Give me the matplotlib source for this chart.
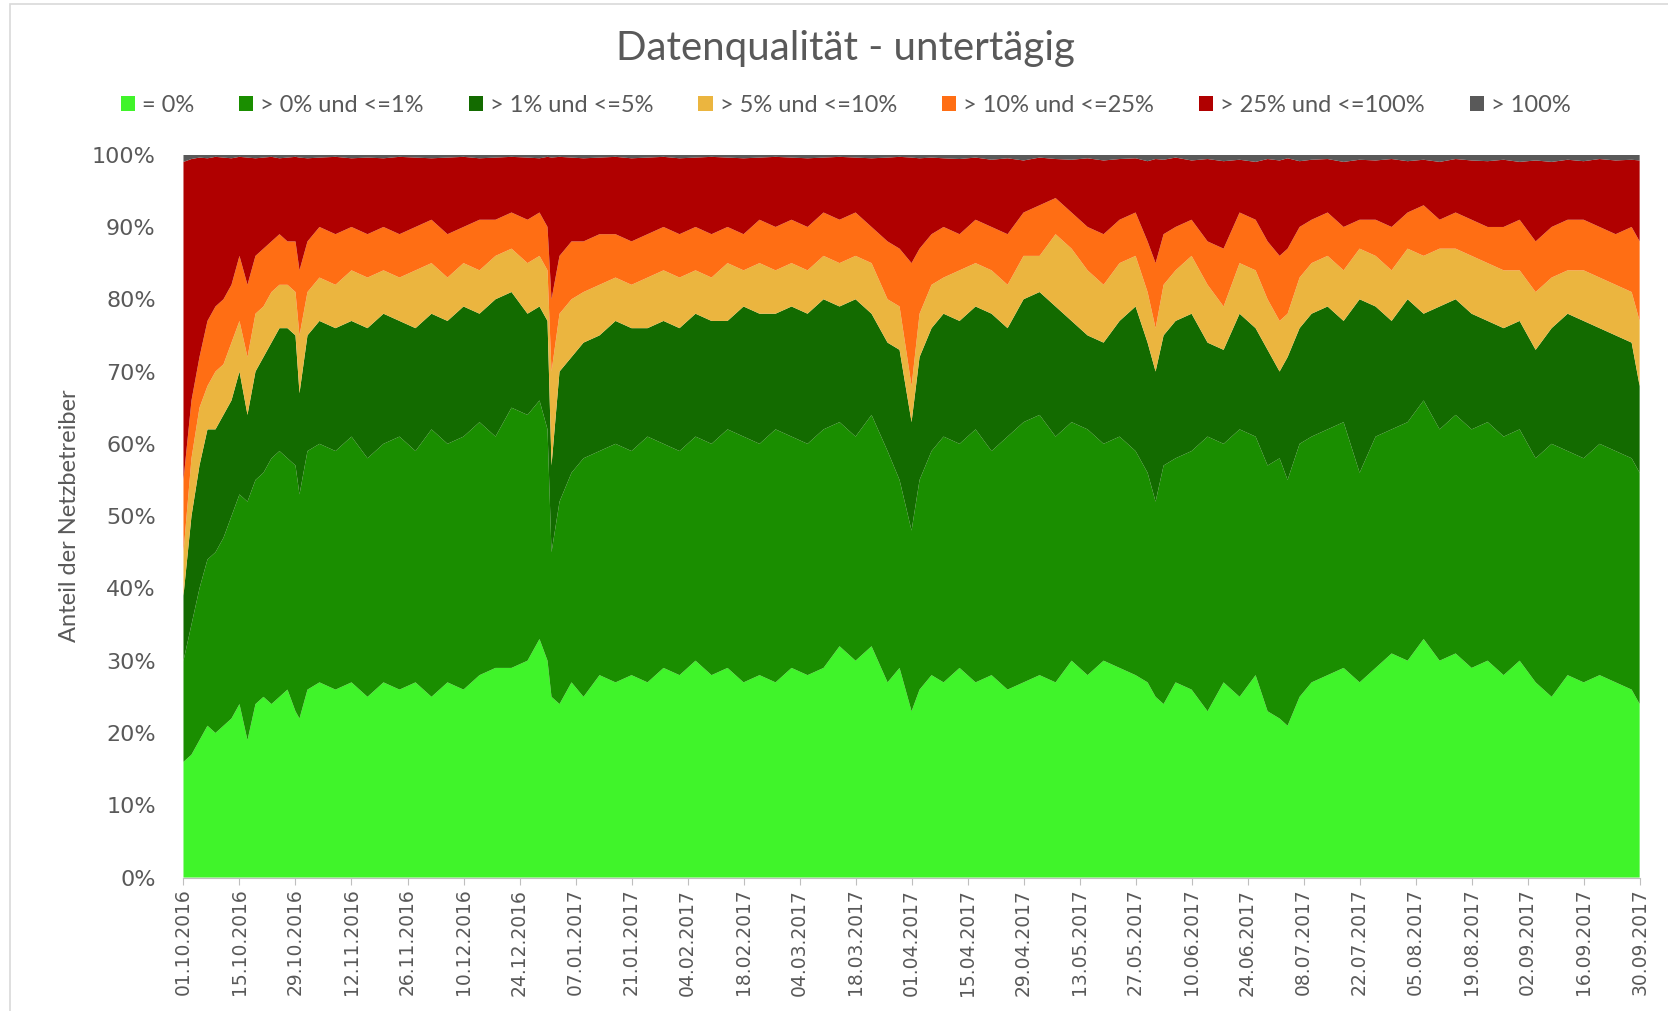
"""
Datenqualität - untertägig: stacked shares per quality class
"""
import datetime as dt

import matplotlib.dates as mdates
import matplotlib.pyplot as plt
import numpy as np
from matplotlib.patches import Rectangle
from matplotlib.ticker import PercentFormatter

START = dt.date(2016, 10, 1)

# day offsets from 01.10.2016 at which the values were read
day_offsets = [
    0, 2, 4, 6, 8, 10, 12, 14, 16, 18,
    20, 22, 24, 26, 28, 29, 31, 34, 38, 42,
    46, 50, 54, 58, 62, 66, 70, 74, 78, 82,
    86, 89, 91, 92, 94, 97, 100, 104, 108, 112,
    116, 120, 124, 128, 132, 136, 140, 144, 148, 152,
    156, 160, 164, 168, 172, 176, 179, 182, 184, 187,
    190, 194, 198, 202, 206, 210, 214, 218, 222, 226,
    230, 234, 238, 241, 243, 245, 248, 252, 256, 260,
    264, 268, 271, 274, 276, 279, 282, 286, 290, 294,
    298, 302, 306, 310, 314, 318, 322, 326, 330, 334,
    338, 342, 346, 350, 354, 358, 362, 364,
]

# cumulative upper edge (in %) of each class
top_eq0 = [
    16, 17, 19, 21, 20, 21, 22, 24, 19, 24,
    25, 24, 25, 26, 23, 22, 26, 27, 26, 27,
    25, 27, 26, 27, 25, 27, 26, 28, 29, 29,
    30, 33, 30, 25, 24, 27, 25, 28, 27, 28,
    27, 29, 28, 30, 28, 29, 27, 28, 27, 29,
    28, 29, 32, 30, 32, 27, 29, 23, 26, 28,
    27, 29, 27, 28, 26, 27, 28, 27, 30, 28,
    30, 29, 28, 27, 25, 24, 27, 26, 23, 27,
    25, 28, 23, 22, 21, 25, 27, 28, 29, 27,
    29, 31, 30, 33, 30, 31, 29, 30, 28, 30,
    27, 25, 28, 27, 28, 27, 26, 24,
]
top_le1 = [
    30, 35, 40, 44, 45, 47, 50, 53, 52, 55,
    56, 58, 59, 58, 57, 53, 59, 60, 59, 61,
    58, 60, 61, 59, 62, 60, 61, 63, 61, 65,
    64, 66, 62, 45, 52, 56, 58, 59, 60, 59,
    61, 60, 59, 61, 60, 62, 61, 60, 62, 61,
    60, 62, 63, 61, 64, 59, 55, 48, 55, 59,
    61, 60, 62, 59, 61, 63, 64, 61, 63, 62,
    60, 61, 59, 56, 52, 57, 58, 59, 61, 60,
    62, 61, 57, 58, 55, 60, 61, 62, 63, 56,
    61, 62, 63, 66, 62, 64, 62, 63, 61, 62,
    58, 60, 59, 58, 60, 59, 58, 56,
]
top_le5 = [
    39, 50, 57, 62, 62, 64, 66, 70, 64, 70,
    72, 74, 76, 76, 75, 67, 75, 77, 76, 77,
    76, 78, 77, 76, 78, 77, 79, 78, 80, 81,
    78, 79, 77, 57, 70, 72, 74, 75, 77, 76,
    76, 77, 76, 78, 77, 77, 79, 78, 78, 79,
    78, 80, 79, 80, 78, 74, 73, 63, 72, 76,
    78, 77, 79, 78, 76, 80, 81, 79, 77, 75,
    74, 77, 79, 74, 70, 75, 77, 78, 74, 73,
    78, 76, 73, 70, 72, 76, 78, 79, 77, 80,
    79, 77, 80, 78, 79, 80, 78, 77, 76, 77,
    73, 76, 78, 77, 76, 75, 74, 68,
]
top_le10 = [
    45, 58, 65, 68, 70, 71, 74, 77, 72, 78,
    79, 81, 82, 82, 81, 75, 81, 83, 82, 84,
    83, 84, 83, 84, 85, 83, 85, 84, 86, 87,
    85, 86, 84, 70, 78, 80, 81, 82, 83, 82,
    83, 84, 83, 84, 83, 85, 84, 85, 84, 85,
    84, 86, 85, 86, 85, 80, 79, 68, 78, 82,
    83, 84, 85, 84, 82, 86, 86, 89, 87, 84,
    82, 85, 86, 81, 76, 82, 84, 86, 82, 79,
    85, 84, 80, 77, 78, 83, 85, 86, 84, 87,
    86, 84, 87, 86, 87, 87, 86, 85, 84, 84,
    81, 83, 84, 84, 83, 82, 81, 77,
]
top_le25 = [
    55, 66, 72, 77, 79, 80, 82, 86, 82, 86,
    87, 88, 89, 88, 88, 84, 88, 90, 89, 90,
    89, 90, 89, 90, 91, 89, 90, 91, 91, 92,
    91, 92, 90, 80, 86, 88, 88, 89, 89, 88,
    89, 90, 89, 90, 89, 90, 89, 91, 90, 91,
    90, 92, 91, 92, 90, 88, 87, 85, 87, 89,
    90, 89, 91, 90, 89, 92, 93, 94, 92, 90,
    89, 91, 92, 88, 85, 89, 90, 91, 88, 87,
    92, 91, 88, 86, 87, 90, 91, 92, 90, 91,
    91, 90, 92, 93, 91, 92, 91, 90, 90, 91,
    88, 90, 91, 91, 90, 89, 90, 88,
]
top_le100 = [
    99.0, 99.4, 99.6, 99.5, 99.7, 99.6, 99.5, 99.7, 99.6, 99.5,
    99.6, 99.7, 99.5, 99.6, 99.7, 99.6, 99.5, 99.6, 99.7, 99.5,
    99.6, 99.5, 99.7, 99.6, 99.5, 99.6, 99.7, 99.5, 99.6, 99.7,
    99.6, 99.5, 99.7, 99.6, 99.7, 99.6, 99.5, 99.6, 99.7, 99.5,
    99.6, 99.7, 99.5, 99.6, 99.7, 99.6, 99.5, 99.6, 99.7, 99.6,
    99.5, 99.6, 99.7, 99.6, 99.5, 99.6, 99.7, 99.6, 99.5, 99.6,
    99.5, 99.4, 99.6, 99.3, 99.5, 99.2, 99.6, 99.4, 99.3, 99.5,
    99.2, 99.4, 99.5, 99.1, 99.4, 99.3, 99.6, 99.2, 99.4, 99.1,
    99.3, 99.0, 99.4, 99.2, 99.5, 99.1, 99.3, 99.4, 99.0, 99.3,
    99.2, 99.4, 99.1, 99.3, 99.0, 99.4, 99.2, 99.1, 99.3, 99.0,
    99.2, 99.0, 99.3, 99.1, 99.4, 99.2, 99.3, 99.2,
]

labels = ["= 0%", "> 0% und <=1%", "> 1% und <=5%", "> 5% und <=10%",
          "> 10% und <=25%", "> 25% und <=100%", "> 100%"]
colors = ["#40F42A", "#1A8E00", "#136B00", "#EBB53F", "#FF6E14",
          "#B00000", "#595959"]

tops = np.array([top_eq0, top_le1, top_le5, top_le10, top_le25, top_le100,
                 [100] * len(day_offsets)], dtype=float)
assert all(len(t) == len(day_offsets) for t in tops)
# share of each class = difference between consecutive upper edges
shares = np.diff(np.vstack([np.zeros(len(day_offsets)), tops]), axis=0)

dates = [START + dt.timedelta(days=d) for d in day_offsets]
tick_dates = [START + dt.timedelta(days=14 * k) for k in range(27)]

grey = "#595959"
fig = plt.figure(figsize=(16.68, 10.11), dpi=100)
ax = fig.add_axes([0.110, 0.132, 0.873, 0.715])

ax.stackplot(dates, shares, colors=colors, labels=labels, linewidth=0)

ax.set_xlim(START, START + dt.timedelta(days=364))
ax.set_ylim(0, 100)
ax.yaxis.set_major_formatter(PercentFormatter(decimals=0))
ax.set_yticks(np.arange(0, 101, 10))
ax.set_xticks(tick_dates)
ax.xaxis.set_major_formatter(mdates.DateFormatter("%d.%m.%Y"))
ax.tick_params(axis="x", rotation=90, labelsize=13.5, colors=grey,
               length=5, width=0.8, pad=3)
ax.tick_params(axis="x", color="#bfbfbf")
ax.tick_params(axis="y", labelsize=16, labelcolor=grey, length=0, pad=20)
for side in ("top", "right", "left"):
    ax.spines[side].set_visible(False)
ax.spines["bottom"].set_color("#bfbfbf")

ax.set_ylabel("Anteil der Netzbetreiber", family="Lato", fontsize=17,
              color=grey)
ax.yaxis.set_label_coords(-0.071, 0.5)

fig.text(0.507, 0.952, "Datenqualität - untertägig", family="Lato",
         fontsize=29, color=grey, ha="center", va="center")
fig.legend(loc="center", bbox_to_anchor=(0.507, 0.896), ncol=7,
           frameon=False, prop={"family": "Lato", "size": 17},
           labelcolor=grey, handlelength=0.6, handleheight=0.6,
           handletextpad=0.3, columnspacing=1.9)

# light chart border (only top and left edges are visible in the source)
fig.patches.append(Rectangle((0.006, -0.05), 1.1, 1.046,
                             transform=fig.transFigure, fill=False,
                             edgecolor="#d9d9d9", linewidth=1.2))

fig.savefig("out.png", dpi=100)
